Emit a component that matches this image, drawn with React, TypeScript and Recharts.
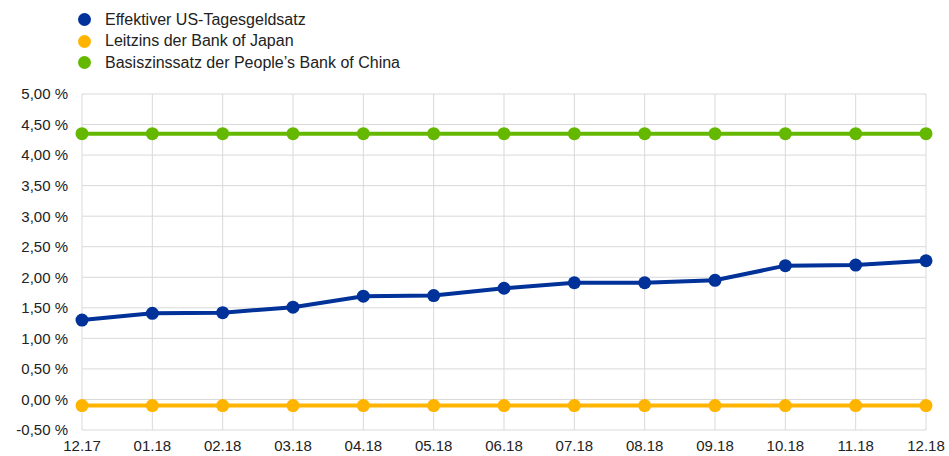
import React from 'react';
import { LineChart, Line, XAxis, YAxis, CartesianGrid } from 'recharts';

const months = ['12.17', '01.18', '02.18', '03.18', '04.18', '05.18', '06.18', '07.18', '08.18', '09.18', '10.18', '11.18', '12.18'];
const usRate = [1.30, 1.41, 1.42, 1.51, 1.69, 1.70, 1.82, 1.91, 1.91, 1.95, 2.19, 2.20, 2.27];
const japanRate = [-0.1, -0.1, -0.1, -0.1, -0.1, -0.1, -0.1, -0.1, -0.1, -0.1, -0.1, -0.1, -0.1];
const chinaRate = [4.35, 4.35, 4.35, 4.35, 4.35, 4.35, 4.35, 4.35, 4.35, 4.35, 4.35, 4.35, 4.35];
const yTicks = [-0.5, 0, 0.5, 1, 1.5, 2, 2.5, 3, 3.5, 4, 4.5, 5];

const seriesInfo = [
  { key: 'us', name: 'Effektiver US-Tagesgeldsatz', color: '#003299' },
  { key: 'jp', name: 'Leitzins der Bank of Japan', color: '#FFB400' },
  { key: 'cn', name: 'Basiszinssatz der People\u2019s Bank of China', color: '#65B800' },
];

const data = months.map((m, i) => ({ month: m, us: usRate[i], jp: japanRate[i], cn: chinaRate[i] }));

const font = '"Liberation Sans", Arial, sans-serif';
const fmt = (v: number) => v.toFixed(2).replace('.', ',') + ' %';

export default function App() {
  return (
    <div style={{ position: 'absolute', left: 0, top: 0, width: 949, height: 456, background: '#fff', fontFamily: font }}>
      <div style={{ position: 'absolute', left: 78, top: 9 }}>
        {seriesInfo.map((s) => (
          <div key={s.key} style={{ display: 'flex', alignItems: 'center', height: 21.5 }}>
            <span style={{ width: 13, height: 13, borderRadius: '50%', background: s.color, display: 'inline-block' }} />
            <span style={{ marginLeft: 14, fontSize: 16, color: '#222' }}>{s.name}</span>
          </div>
        ))}
      </div>
      <LineChart width={949} height={456} data={data} margin={{ top: 94, right: 23, left: 0, bottom: 0 }}>
        <CartesianGrid stroke="#d9d9d9" strokeWidth={1} />
        <XAxis
          dataKey="month"
          axisLine={false}
          tickLine={false}
          tickSize={0}
          tickMargin={10}
          height={26}
          interval={0}
          tick={{ fill: '#222', fontSize: 15, fontFamily: font }}
        />
        <YAxis
          type="number"
          domain={[-0.5, 5]}
          ticks={yTicks}
          width={82}
          axisLine={false}
          tickLine={false}
          tickSize={0}
          tickMargin={14}
          tickFormatter={fmt}
          tick={{ fill: '#222', fontSize: 15, fontFamily: font }}
        />
        {seriesInfo.map((s) => (
          <Line
            key={s.key}
            dataKey={s.key}
            name={s.name}
            type="linear"
            stroke={s.color}
            strokeWidth={4}
            dot={{ r: 6.5, fill: s.color, stroke: s.color, strokeWidth: 0 }}
            isAnimationActive={false}
          />
        ))}
      </LineChart>
    </div>
  );
}
